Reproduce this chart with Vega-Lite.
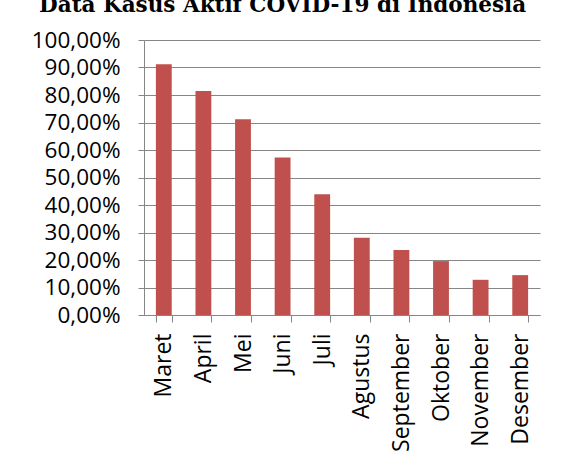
{
  "$schema": "https://vega.github.io/schema/vega-lite/v6.json",
  "width": 396,
  "height": 275,
  "autosize": {"type": "none"},
  "padding": {"left": 144, "top": 40, "right": 21, "bottom": 147},
  "background": "white",
  "title": {
    "text": "Data Kasus Aktif COVID-19 di Indonesia",
    "font": "DejaVu Serif",
    "fontWeight": "bold",
    "fontSize": 21.5,
    "color": "#000000",
    "anchor": "middle",
    "frame": "bounds",
    "baseline": "alphabetic",
    "offset": -4,
    "dx": -3
  },
  "data": {
    "values": [
      {"bulan": "Maret", "persen": 0.912},
      {"bulan": "April", "persen": 0.815},
      {"bulan": "Mei", "persen": 0.712},
      {"bulan": "Juni", "persen": 0.573},
      {"bulan": "Juli", "persen": 0.439},
      {"bulan": "Agustus", "persen": 0.281},
      {"bulan": "September", "persen": 0.236},
      {"bulan": "Oktober", "persen": 0.196},
      {"bulan": "November", "persen": 0.128},
      {"bulan": "Desember", "persen": 0.145}
    ]
  },
  "mark": {"type": "bar", "color": "#C0504D"},
  "encoding": {
    "x": {
      "field": "bulan",
      "type": "nominal",
      "sort": null,
      "title": null,
      "scale": {"paddingInner": 0.6, "paddingOuter": 0.3},
      "axis": {
        "labelAngle": -90,
        "labelAlign": "right",
        "labelBaseline": "middle",
        "labelFont": "Open Sans",
        "labelFontSize": 23,
        "labelColor": "#000000",
        "labelPadding": 11,
        "tickBand": "extent",
        "tickSize": 7,
        "tickColor": "#868686",
        "domainColor": "#868686",
        "grid": false
      }
    },
    "y": {
      "field": "persen",
      "type": "quantitative",
      "title": null,
      "scale": {"domain": [0, 1], "nice": false},
      "axis": {
        "values": [0, 0.1, 0.2, 0.3, 0.4, 0.5, 0.6, 0.7, 0.8, 0.9, 1],
        "labelExpr": "replace(format(datum.value, '.2%'), '.', ',')",
        "labelFont": "Open Sans",
        "labelFontSize": 22.5,
        "labelColor": "#000000",
        "labelPadding": 18,
        "tickSize": 6,
        "tickColor": "#868686",
        "domainColor": "#868686",
        "gridColor": "#868686",
        "gridOpacity": 1,
        "gridWidth": 1.2
      }
    }
  },
  "config": {"view": {"stroke": null}}
}
